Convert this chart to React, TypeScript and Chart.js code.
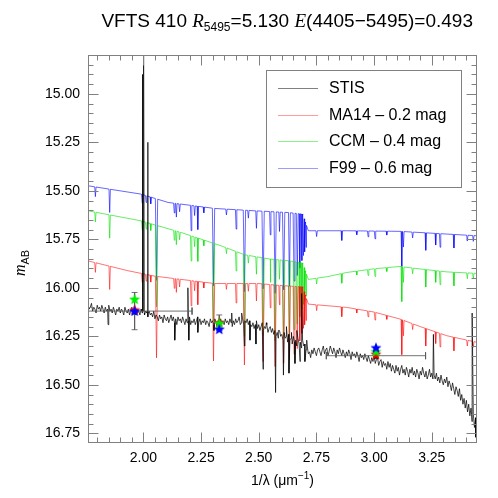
import React, { useEffect, useRef } from "react";
import { Chart, registerables } from "chart.js";
Chart.register(...registerables);

const SANS = "'Liberation Sans', Arial, sans-serif";
const SERIF = "'Liberation Serif', 'Times New Roman', serif";

// ---------- axes ----------
const X_MIN = 1.76;
const X_MAX = 3.446;
const Y_MIN = 14.8;
const Y_MAX = 16.8;
const X_TICKS = [2.0, 2.25, 2.5, 2.75, 3.0, 3.25];
const X_TICK_LABELS = ["2.00", "2.25", "2.50", "2.75", "3.00", "3.25"];
const Y_TICKS = [15.0, 15.25, 15.5, 15.75, 16.0, 16.25, 16.5, 16.75];
const Y_TICK_LABELS = ["15.00", "15.25", "15.50", "15.75", "16.00", "16.25", "16.50", "16.75"];

const LEGEND_LABELS = ["STIS", "MA14 \u2013 0.2 mag", "CCM \u2013 0.4 mag", "F99 \u2013 0.6 mag"];

// ---------- STIS spectrum (1/lambda grid start 1.76, step 0.005) ----------
const STIS_START = 1.76;
const STIS_STEP = 0.005;
const STIS_MAG = [
  16.09, 16.11, 16.10, 16.08, 16.12, 16.10, 16.11, 16.13, 16.09, 16.11, 16.10, 16.12, 16.09, 16.11, 16.13, 16.10, 16.12, 16.11, 16.09, 16.12,
  16.11, 16.13, 16.10, 16.12, 16.14, 16.11, 16.12, 16.10, 16.13, 16.11, 16.12, 16.14, 16.10, 16.12, 16.13, 16.11, 16.14, 16.12, 16.10, 16.13,
  16.12, 16.14, 16.11, 16.13, 16.12, 16.14, 16.11, 16.13, 16.12, 16.14, 16.12, 16.13, 16.15, 16.12, 16.14, 16.13, 16.15, 16.12, 16.16, 16.14,
  16.15, 16.17, 16.14, 16.16, 16.15, 16.18, 16.14, 16.16, 16.17, 16.15, 16.18, 16.16, 16.14, 16.17, 16.15, 16.18, 16.16, 16.19, 16.15, 16.17,
  16.16, 16.18, 16.15, 16.17, 16.19, 16.16, 16.18, 16.17, 16.15, 16.19, 16.17, 16.18, 16.16, 16.19, 16.17, 16.15, 16.18, 16.16, 16.19, 16.17,
  16.18, 16.16, 16.19, 16.17, 16.18, 16.20, 16.16, 16.18, 16.17, 16.19, 16.16, 16.18, 16.20, 16.17, 16.19, 16.16, 16.18, 16.17, 16.19, 16.16,
  16.18, 16.17, 16.19, 16.16, 16.18, 16.20, 16.17, 16.19, 16.16, 16.18, 16.17, 16.15, 16.19, 16.18, 16.16, 16.19, 16.17, 16.18, 16.16, 16.19,
  16.17, 16.19, 16.20, 16.18, 16.21, 16.19, 16.17, 16.21, 16.19, 16.22, 16.20, 16.18, 16.22, 16.20, 16.21, 16.19, 16.23, 16.21, 16.20, 16.23,
  16.21, 16.24, 16.22, 16.25, 16.23, 16.26, 16.22, 16.25, 16.24, 16.27, 16.23, 16.26, 16.25, 16.28, 16.24, 16.27, 16.26, 16.29, 16.25, 16.28,
  16.27, 16.30, 16.26, 16.29, 16.28, 16.31, 16.27, 16.30, 16.29, 16.32, 16.30, 16.34, 16.33, 16.36, 16.32, 16.34, 16.31, 16.33, 16.35, 16.32,
  16.31, 16.33, 16.35, 16.32, 16.30, 16.34, 16.32, 16.31, 16.35, 16.33, 16.30, 16.32, 16.34, 16.31, 16.33, 16.36, 16.32, 16.34, 16.31, 16.33,
  16.35, 16.32, 16.34, 16.36, 16.33, 16.35, 16.32, 16.34, 16.37, 16.33, 16.35, 16.34, 16.36, 16.33, 16.35, 16.38, 16.34, 16.36, 16.35, 16.37,
  16.34, 16.36, 16.38, 16.35, 16.37, 16.39, 16.36, 16.38, 16.35, 16.39, 16.37, 16.36, 16.40, 16.38, 16.37, 16.41, 16.38, 16.40, 16.39, 16.42,
  16.38, 16.41, 16.39, 16.43, 16.40, 16.42, 16.44, 16.40, 16.43, 16.41, 16.45, 16.42, 16.40, 16.44, 16.42, 16.45, 16.41, 16.43, 16.46, 16.42,
  16.44, 16.41, 16.45, 16.43, 16.46, 16.42, 16.44, 16.47, 16.43, 16.45, 16.41, 16.44, 16.46, 16.43, 16.47, 16.45, 16.42, 16.46, 16.44, 16.47,
  16.45, 16.47, 16.44, 16.48, 16.46, 16.49, 16.45, 16.48, 16.50, 16.47, 16.49, 16.46, 16.51, 16.48, 16.50, 16.53, 16.49, 16.52, 16.55, 16.51,
  16.53, 16.56, 16.52, 16.58, 16.55, 16.60, 16.57, 16.62, 16.58, 16.64, 16.60, 16.66, 16.62, 16.69, 16.65, 16.72, 16.67, 16.75, 16.70,
];
// individual STIS features (spikes and lines)
const STIS_FEAT_X = [
  1.847, 1.993, 1.9955, 1.997, 1.999, 2.0015, 2.004, 2.017, 2.019, 2.021,
  2.136, 2.193, 2.197, 2.236, 2.306, 2.383, 2.426, 2.438, 2.462, 2.488,
  2.519, 2.533, 2.573, 2.585, 2.607, 2.620, 2.631, 2.642, 2.657, 2.665,
  2.679, 2.686, 2.700, 2.708, 3.257, 3.425, 3.440,
];
const STIS_FEAT_Y = [
  16.19, 16.12, 14.90, 16.12, 16.12, 14.60, 16.13, 16.12, 15.25, 16.13,
  16.27, 16.00, 16.27, 16.23, 16.22, 16.13, 16.13, 16.30, 16.27, 16.29,
  16.42, 16.18, 16.54, 16.22, 16.45, 16.20, 16.44, 16.23, 16.39, 16.22,
  16.38, 16.03, 16.38, 16.27, 16.24, 16.13, 16.77,
];

// ---------- model continua ----------
const MA14_KX = [1.76, 1.933, 2.05, 2.309, 2.5, 2.592, 2.69, 2.715, 2.881, 3.0, 3.112, 3.2, 3.315, 3.45];
const MA14_KY = [15.861, 15.912, 15.94, 15.978, 15.978, 15.988, 15.995, 16.084, 16.101, 16.125, 16.161, 16.2, 16.247, 16.282];
const CCM_KX = [1.76, 1.99, 2.164, 2.338, 2.439, 2.55, 2.627, 2.69, 2.715, 2.8, 2.881, 3.0, 3.112, 3.2, 3.315, 3.45];
const CCM_KY = [15.603, 15.655, 15.715, 15.784, 15.83, 15.852, 15.86, 15.872, 15.957, 15.942, 15.921, 15.902, 15.89, 15.903, 15.918, 15.926];
const F99_KX = [1.76, 1.85, 1.99, 2.107, 2.309, 2.483, 2.627, 2.69, 2.715, 2.881, 3.112, 3.315, 3.45];
const F99_KY = [15.474, 15.491, 15.517, 15.56, 15.591, 15.603, 15.612, 15.62, 15.706, 15.706, 15.709, 15.723, 15.732];

// ---------- stellar absorption lines shared by the models ----------
const LINE_X = [
  1.792, 1.854, 1.995, 2.012, 2.032, 2.057, 2.134, 2.143, 2.157, 2.207,
  2.222, 2.236, 2.262, 2.304, 2.36, 2.402, 2.438, 2.455, 2.49, 2.519,
  2.55, 2.571, 2.59, 2.608, 2.633, 2.653, 2.667, 2.678, 2.687, 2.694,
  2.7, 2.705, 2.751, 2.86, 2.925, 2.974, 3.004, 3.055, 3.12, 3.127,
  3.167, 3.224, 3.267, 3.286, 3.346, 3.404, 3.43,
];
const LINE_DEPTH = [
  0.05, 0.12, 0.045, 0.035, 0.035, 0.42, 0.05, 0.07, 0.04, 0.13,
  0.05, 0.12, 0.03, 0.4, 0.03, 0.1, 0.42, 0.04, 0.09, 0.4,
  0.12, 0.42, 0.1, 0.4, 0.38, 0.35, 0.32, 0.28, 0.24, 0.2,
  0.16, 0.12, 0.03, 0.05, 0.02, 0.03, 0.04, 0.02, 0.18, 0.08,
  0.03, 0.09, 0.06, 0.07, 0.07, 0.03, 0.03,
];
const LINE_HW = [
  0.003, 0.003, 0.003, 0.003, 0.003, 0.005, 0.003, 0.003, 0.003, 0.003,
  0.003, 0.003, 0.003, 0.005, 0.003, 0.003, 0.005, 0.003, 0.003, 0.005,
  0.003, 0.005, 0.003, 0.005, 0.004, 0.004, 0.004, 0.003, 0.003, 0.003,
  0.002, 0.002, 0.003, 0.003, 0.003, 0.003, 0.003, 0.003, 0.003, 0.003,
  0.003, 0.003, 0.003, 0.003, 0.003, 0.003, 0.003,
];

// ---------- synthetic photometry ----------
const PHOT_X = [1.962, 2.329, 3.008];
const PHOT_STIS = [16.12, 16.18, 16.35];
const PHOT_MA14 = [16.113, 16.179, 16.342];
const PHOT_CCM = [16.058, 16.182, 16.328];
const PHOT_F99 = [16.119, 16.213, 16.308];
const PHOT_YERR = [0.096, 0.04, 0.015];
const PHOT_XERR = [0.249, 0, 0.215];

const COL_STIS = "rgba(0,0,0,0.72)";
const COL_MA14 = "rgba(255,0,0,0.55)";
const COL_CCM = "rgba(0,225,0,0.6)";
const COL_F99 = "rgba(0,0,255,0.6)";
const LEGEND_COLORS = ["#808080", "#ff9c9c", "#8cf08c", "#9c9cff"];

type P = { x: number; y: number | null };

function interp(xs: number[], ys: number[], x: number): number {
  if (x <= xs[0]) return ys[0];
  for (let i = 1; i < xs.length; i++) {
    if (x <= xs[i]) {
      const t = (x - xs[i - 1]) / (xs[i] - xs[i - 1]);
      return ys[i - 1] + t * (ys[i] - ys[i - 1]);
    }
  }
  return ys[ys.length - 1];
}

function buildModel(kx: number[], ky: number[]): P[] {
  const pts: P[] = kx.map((x, i) => ({ x, y: ky[i] }));
  LINE_X.forEach((c, i) => {
    const w = LINE_HW[i];
    pts.push({ x: c - w, y: interp(kx, ky, c - w) });
    pts.push({ x: c, y: interp(kx, ky, c) + LINE_DEPTH[i] });
    pts.push({ x: c + w, y: interp(kx, ky, c + w) });
  });
  pts.sort((a, b) => a.x - b.x);
  return pts;
}

function buildStis(): P[] {
  const pts: P[] = STIS_MAG.map((y, i) => ({ x: STIS_START + i * STIS_STEP, y }));
  STIS_FEAT_X.forEach((x, i) => pts.push({ x, y: STIS_FEAT_Y[i] }));
  pts.sort((a, b) => a.x - b.x);
  return pts;
}

function buildErrorBars(): P[] {
  const pts: P[] = [];
  const capX = 0.013;
  const capY = 0.018;
  PHOT_X.forEach((x, i) => {
    const y = PHOT_STIS[i];
    const ey = PHOT_YERR[i];
    const ex = PHOT_XERR[i];
    pts.push({ x, y: y - ey }, { x, y: y + ey }, { x, y: null });
    pts.push({ x: x - capX, y: y - ey }, { x: x + capX, y: y - ey }, { x, y: null });
    pts.push({ x: x - capX, y: y + ey }, { x: x + capX, y: y + ey }, { x, y: null });
    if (ex > 0) {
      pts.push({ x: x - ex, y }, { x: x + ex, y }, { x, y: null });
      pts.push({ x: x - ex, y: y - capY }, { x: x - ex, y: y + capY }, { x, y: null });
      pts.push({ x: x + ex, y: y - capY }, { x: x + ex, y: y + capY }, { x, y: null });
    }
  });
  return pts;
}

function makeStar(color: string, size: number): HTMLCanvasElement {
  const c = document.createElement("canvas");
  c.width = size;
  c.height = size;
  const ctx = c.getContext("2d")!;
  const cx = size / 2;
  const cy = size / 2 + 0.5;
  const ro = size / 2 - 0.2;
  const ri = ro * 0.45;
  ctx.beginPath();
  for (let k = 0; k < 10; k++) {
    const r = k % 2 === 0 ? ro : ri;
    const a = -Math.PI / 2 + (k * Math.PI) / 5;
    const px = cx + r * Math.cos(a);
    const py = cy + r * Math.sin(a);
    if (k === 0) ctx.moveTo(px, py);
    else ctx.lineTo(px, py);
  }
  ctx.closePath();
  ctx.fillStyle = color;
  ctx.fill();
  return c;
}

const decorPlugin = {
  id: "decor",
  afterDraw(chart: any) {
    const ctx: CanvasRenderingContext2D = chart.ctx;
    const xs = chart.scales.x;
    const ys = chart.scales.y;
    const { left, right, top, bottom } = chart.chartArea;
    const L = Math.round(left) + 0.5;
    const R = Math.round(right) - 0.5;
    const T = Math.round(top) + 0.5;
    const B = Math.round(bottom) - 0.5;
    ctx.save();
    ctx.strokeStyle = "#808080";
    ctx.lineWidth = 1;
    ctx.strokeRect(L, T, R - L, B - T);

    const isMajor = (v: number, arr: number[]) => arr.some((m) => Math.abs(m - v) < 1e-6);
    ctx.beginPath();
    for (let k = 36; k <= 68; k++) {
      const v = k * 0.05;
      if (v < X_MIN || v > X_MAX) continue;
      const len = isMajor(v, X_TICKS) ? 10 : 5;
      const px = Math.round(xs.getPixelForValue(v)) + 0.5;
      ctx.moveTo(px, B);
      ctx.lineTo(px, B - len);
      ctx.moveTo(px, T);
      ctx.lineTo(px, T + len);
    }
    for (let k = 297; k <= 335; k++) {
      const v = k * 0.05;
      if (v <= Y_MIN || v >= Y_MAX) continue;
      const len = isMajor(v, Y_TICKS) ? 10 : 5;
      const py = Math.round(ys.getPixelForValue(v)) + 0.5;
      ctx.moveTo(L, py);
      ctx.lineTo(L + len, py);
      ctx.moveTo(R, py);
      ctx.lineTo(R - len, py);
    }
    ctx.stroke();

    // tick labels
    ctx.fillStyle = "#000";
    ctx.font = `14px ${SANS}`;
    ctx.textAlign = "center";
    ctx.textBaseline = "alphabetic";
    X_TICKS.forEach((v, i) => {
      ctx.fillText(X_TICK_LABELS[i], xs.getPixelForValue(v), bottom + 19);
    });
    ctx.textAlign = "right";
    ctx.textBaseline = "middle";
    Y_TICKS.forEach((v, i) => {
      ctx.fillText(Y_TICK_LABELS[i], left - 8, ys.getPixelForValue(v));
    });

    // x title
    ctx.textBaseline = "alphabetic";
    ctx.textAlign = "left";
    const xt1 = "1/\u03bb (\u03bcm";
    const xt2 = "\u22121";
    const xt3 = ")";
    ctx.font = `14px ${SANS}`;
    const w1 = ctx.measureText(xt1).width;
    const w3 = ctx.measureText(xt3).width;
    ctx.font = `10px ${SANS}`;
    const w2 = ctx.measureText(xt2).width;
    let xx = (left + right) / 2 - (w1 + w2 + w3) / 2;
    const xb = bottom + 42;
    ctx.font = `14px ${SANS}`;
    ctx.fillText(xt1, xx, xb);
    xx += w1;
    ctx.font = `10px ${SANS}`;
    ctx.fillText(xt2, xx, xb - 6);
    xx += w2;
    ctx.font = `14px ${SANS}`;
    ctx.fillText(xt3, xx, xb);

    // y title
    ctx.save();
    ctx.translate(25, (top + bottom) / 2 + 14);
    ctx.rotate(-Math.PI / 2);
    ctx.font = `italic 16px ${SERIF}`;
    const wm = ctx.measureText("m").width;
    ctx.font = `11px ${SANS}`;
    const wab = ctx.measureText("AB").width;
    let yx = -(wm + wab) / 2;
    ctx.font = `italic 16px ${SERIF}`;
    ctx.fillText("m", yx, 0);
    yx += wm;
    ctx.font = `11px ${SANS}`;
    ctx.fillText("AB", yx, 4);
    ctx.restore();

    // title
    const segs = [
      { t: "VFTS 410 ", f: `19px ${SANS}`, dy: 0 },
      { t: "R", f: `italic 19px ${SERIF}`, dy: 0 },
      { t: "5495", f: `12px ${SANS}`, dy: 4 },
      { t: "=5.130 ", f: `19px ${SANS}`, dy: 0 },
      { t: "E", f: `italic 19px ${SERIF}`, dy: 0 },
      { t: "(4405\u22125495)=0.493", f: `19px ${SANS}`, dy: 0 },
    ];
    let total = 0;
    const widths = segs.map((s) => {
      ctx.font = s.f;
      const w = ctx.measureText(s.t).width;
      total += w;
      return w;
    });
    let tx = 473 - total;
    segs.forEach((s, i) => {
      ctx.font = s.f;
      ctx.fillText(s.t, tx, 27 + s.dy);
      tx += widths[i];
    });

    // legend
    ctx.strokeStyle = "#808080";
    ctx.lineWidth = 1;
    ctx.strokeRect(266.5, 70.5, 195, 117);
    const rows = [88, 114.5, 141, 167.5];
    ctx.font = `16px ${SANS}`;
    ctx.textBaseline = "middle";
    LEGEND_LABELS.forEach((lab, i) => {
      ctx.strokeStyle = LEGEND_COLORS[i];
      ctx.beginPath();
      ctx.moveTo(278, Math.round(rows[i]) + 0.5);
      ctx.lineTo(318, Math.round(rows[i]) + 0.5);
      ctx.stroke();
      ctx.fillStyle = "#000";
      ctx.fillText(lab, 329, rows[i] + 1);
    });
    ctx.restore();
  },
};

export default function App() {
  const ref = useRef<HTMLCanvasElement | null>(null);
  useEffect(() => {
    document.body.style.margin = "0";
    const canvas = ref.current!;
    const starSize = 12;
    const lineDs = (label: string, data: P[], color: string, order: number) => ({
      label,
      data,
      borderColor: color,
      borderWidth: 1,
      pointRadius: 0,
      borderJoinStyle: "bevel",
      order,
    });
    const chart = new Chart(canvas, {
      type: "line",
      data: {
        datasets: [
          {
            label: "phot F99",
            type: "scatter",
            data: PHOT_X.map((x, i) => ({ x, y: PHOT_F99[i] })),
            pointStyle: makeStar("#0000ff", starSize),
            order: 0,
          },
          {
            label: "phot CCM",
            type: "scatter",
            data: PHOT_X.map((x, i) => ({ x, y: PHOT_CCM[i] })),
            pointStyle: makeStar("#00ee00", starSize),
            order: 1,
          },
          {
            label: "phot MA14",
            type: "scatter",
            data: PHOT_X.map((x, i) => ({ x, y: PHOT_MA14[i] })),
            pointStyle: makeStar("#ff0000", starSize),
            order: 2,
          },
          {
            label: "phot STIS",
            type: "scatter",
            data: PHOT_X.map((x, i) => ({ x, y: PHOT_STIS[i] })),
            pointStyle: makeStar("#000000", 8),
            order: 3,
          },
          {
            label: "error bars",
            data: buildErrorBars(),
            borderColor: "rgba(90,90,90,0.85)",
            borderWidth: 1,
            pointRadius: 0,
            spanGaps: false,
            order: 4,
          },
          lineDs("STIS", buildStis(), COL_STIS, 5),
          lineDs("MA14", buildModel(MA14_KX, MA14_KY), COL_MA14, 6),
          lineDs("CCM", buildModel(CCM_KX, CCM_KY), COL_CCM, 7),
          lineDs("F99", buildModel(F99_KX, F99_KY), COL_F99, 8),
        ],
      },
      options: {
        animation: false,
        responsive: false,
        layout: { padding: { left: 88, top: 55, right: 21, bottom: 55 } },
        scales: {
          x: { type: "linear", min: X_MIN, max: X_MAX, display: false },
          y: { type: "linear", min: Y_MIN, max: Y_MAX, reverse: true, display: false },
        },
        plugins: {
          legend: { display: false },
          tooltip: { enabled: false },
        },
        elements: { line: { tension: 0 } },
      },
      plugins: [decorPlugin],
    } as any);
    return () => chart.destroy();
  }, []);
  return (
    <div style={{ width: 498, height: 498, background: "#fff" }}>
      <canvas ref={ref} width={498} height={498} style={{ display: "block" }} />
    </div>
  );
}
